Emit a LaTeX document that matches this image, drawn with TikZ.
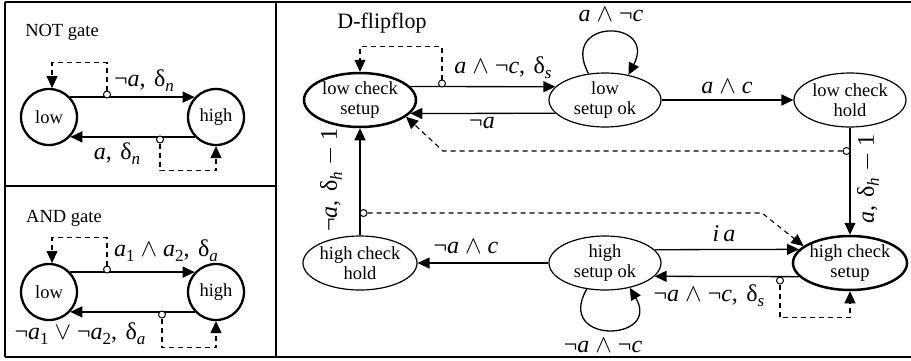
\documentclass[tikz,border=0pt]{standalone}
\usepackage{fontspec}
\setmainfont{Liberation Serif}
\usetikzlibrary{arrows.meta,shapes.geometric,calc}
% lowered subscript used in the transition labels
\newcommand\lsub[1]{\raisebox{-5pt}{\fontsize{17}{17}\selectfont #1}}
\newcommand\va{\textit{a}}
\newcommand\vc{\textit{c}}
\newcommand\sep{,\hspace{0.35em}}
\begin{document}
\begin{tikzpicture}[x=1pt,y=-1pt,
  tr/.style={line width=1.3pt,-{Triangle[length=12pt,width=11pt]}},
  dsh/.style={line width=1.1pt,dash pattern=on 5pt off 4pt,-{Triangle[length=12pt,width=11pt]}},
  tap/.style={circle,draw,fill=white,line width=1pt,minimum size=7pt,inner sep=0},
  gate/.style={circle,draw,line width=2.3pt,minimum size=56pt,inner sep=0,font=\fontsize{18.5}{19}\selectfont},
  st/.style={ellipse,draw,line width=1.2pt,minimum width=112pt,minimum height=54pt,inner sep=0,align=center,font=\fontsize{18.5}{19.5}\selectfont},
  stk/.style={st,line width=2.5pt},
  lab/.style={inner sep=0,font=\fontsize{24}{25}\selectfont},
  ttl/.style={inner sep=0,font=\fontsize{18.5}{19}\selectfont},
  panelline/.style={line width=1.3pt}
]
\useasboundingbox (0,0) rectangle (911,360);

% panel frames
\draw[panelline] (5,2) -- (911,2);
\draw[panelline] (5,357) -- (911,357);
\draw[panelline] (5,2) -- (5,357);
\draw[panelline] (276,2) -- (276,357);
\draw[panelline] (5,186) -- (276,186);

% ---------------- NOT gate ----------------
\node[ttl] (tnot) at (62,32) {NOT gate};
\node[gate] (nl) at (49,117) {low};
\node[gate] (nh) at (216,117) {high};
\draw[tr] (nl.43) -- (nh.137);
\draw[tr] (nh.-137) -- (nl.-43);
\node[tap] (ntu) at (107,94.5) {};
\draw[dsh] (ntu.north) -- ++(0,-28) -| (nl.84);
\node[tap] (ntd) at (160,139.5) {};
\draw[dsh] (ntd.south) -- ++(0,27) -| (nh.south);
\node[lab] (lnu) at (144,81) {¬\va\sep δ\lsub{\textit{n}}};
\node[lab] (lnd) at (117,154) {\va\sep δ\lsub{\textit{n}}};

% ---------------- AND gate ----------------
\node[ttl] (tand) at (64,218) {AND gate};
\node[gate] (al) at (49,292) {low};
\node[gate] (ah) at (216,292) {high};
\draw[tr] (al.43) -- (ah.137);
\draw[tr] (ah.-137) -- (al.-43);
\node[tap] (atu) at (107,269.5) {};
\draw[dsh] (atu.north) -- ++(0,-28) -| (al.84);
\node[tap] (atd) at (162,314.5) {};
\draw[dsh] (atd.south) -- ++(0,29) -| (ah.south);
\node[lab] (lau) at (166,251) {\va\lsub{1} $\wedge$ \va\lsub{2}\sep δ\lsub{\textit{a}}};
\node[lab] (lad) at (80,334) {¬\va\lsub{1} $\vee$ ¬\va\lsub{2}\sep δ\lsub{\textit{a}}};

% ---------------- D-flipflop ----------------
\node[inner sep=0,font=\fontsize{22}{23}\selectfont] (tdff) at (382,23) {D-flipflop};
\node[stk] (LCS) at (360,100) {low check\\setup};
\node[st]  (LSO) at (605,100) {low\\setup ok};
\node[st]  (LCH) at (850,100) {low check\\hold};
\node[st]  (HCH) at (360,263) {high check\\hold};
\node[st]  (HSO) at (605,263) {high\\setup ok};
\node[stk] (HCS) at (850,263) {high check\\setup};

\draw[tr] (LCS.15) -- (LSO.165);
\draw[tr] (LSO.-165) -- (LCS.-15);
\draw[tr] (LSO) -- (LCH);
\draw[tr] (LCH) -- (HCS);
\draw[tr] (HCH) -- (LCS);
\draw[tr] (HSO) -- (HCH);
\draw[tr] (HSO.15) -- (HCS.165);
\draw[tr] (HCS.-165) -- (HSO.-15);

% self loops
\draw[tr] (LSO.122) .. controls +(-30,-56) and +(29,-56) .. (LSO.47);
\draw[tr] (HSO.-125) .. controls +(-32,56) and +(32,54) .. (HSO.-45);

% dashed side effects
\node[tap] (d1) at (442,83.5) {};
\draw[dsh] (d1.north) -- ++(0,-33) -| (LCS.north);
\node[tap] (d2) at (846.5,151) {};
\coordinate (k1) at (443,151);
\draw[dsh] (d2.west) -- (k1) -- (LCS.-20);
\node[tap] (d3) at (363.5,213) {};
\coordinate (k2) at (762,213);
\draw[dsh] (d3.east) -- (k2) -- (HCS.160);
\node[tap] (d4) at (780,280.5) {};
\draw[dsh] (d4.south) -- ++(0,33) -| (HCS.south);

% labels
\node[lab] (l1) at (503,68) {\va\ $\wedge$ ¬\vc\sep δ\lsub{\textit{s}}};
\node[lab] (l2) at (482,123) {¬\va};
\node[lab] (l3) at (611,15) {\va\ $\wedge$ ¬\vc};
\node[lab] (l4) at (727,87) {\va\ $\wedge$ \vc};
\node[lab,rotate=90] (l5) at (868,179) {\va\sep δ\lsub{\textit{h}} $-$ 1};
\node[lab,rotate=90] (l6) at (331,180) {¬\va\sep δ\lsub{\textit{h}} $-$ 1};
\node[lab] (l7) at (724,234) {\textit{i}\,\va};
\node[lab] (l8) at (466,247) {¬\va\ $\wedge$ \vc};
\node[lab] (l9) at (709,296) {¬\va\ $\wedge$ ¬\vc\sep δ\lsub{\textit{s}}};
\node[lab] (l10) at (603,346) {¬\va\ $\wedge$ ¬\vc};
\end{tikzpicture}
\end{document}
